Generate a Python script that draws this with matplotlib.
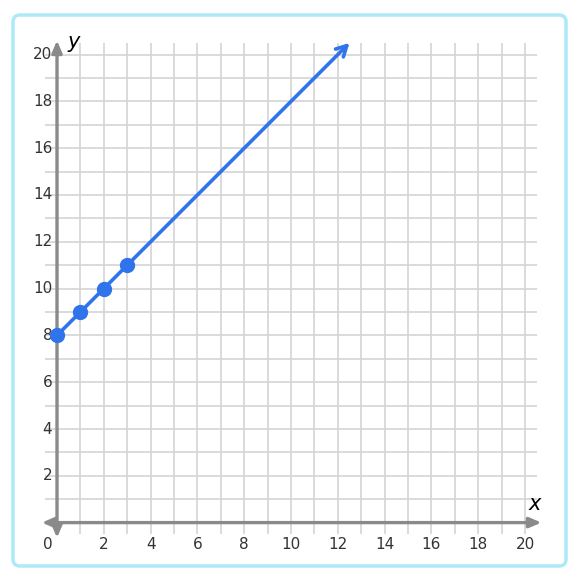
import numpy as np
import matplotlib.pyplot as plt
from matplotlib.patches import FancyBboxPatch

# Data
point_x = [0, 1, 2, 3]
point_y = [8, 9, 10, 11]
line_start = (0, 8)
line_end = (12.5, 20.5)
tick_values = [2, 4, 6, 8, 10, 12, 14, 16, 18, 20]
grid_values = list(range(1, 21))

blue = '#2f74ea'
axis_gray = '#8a8a8a'
grid_gray = '#d4d4d4'

fig = plt.figure(figsize=(5.81, 5.81), dpi=100)

# rounded border around the graph
border = FancyBboxPatch((13 / 581, 15 / 581), 553 / 581, 551 / 581,
                        boxstyle='round,pad=0,rounding_size=0.012',
                        transform=fig.transFigure, fill=False,
                        edgecolor='#aee9f8', linewidth=2.5)
fig.patches.append(border)

ax = fig.add_axes([21.9 / 581, 23.3 / 581, 538.2 / 581, 538.2 / 581])
ax.set_xlim(-1.5, 21.5)
ax.set_ylim(-1.5, 21.5)
ax.axis('off')

# grid
ax.vlines(grid_values, -0.5, 20.5, color=grid_gray, lw=1.2, zorder=1)
ax.hlines(grid_values, -0.5, 20.5, color=grid_gray, lw=1.2, zorder=1)

# axes with arrows
ax.annotate('', xy=(20.7, 0), xytext=(-0.65, 0),
            arrowprops=dict(arrowstyle='<|-|>,head_length=0.7,head_width=0.3',
                            color=axis_gray, lw=2.4, shrinkA=0, shrinkB=0), zorder=2)
ax.annotate('', xy=(0, 20.6), xytext=(0, -0.65),
            arrowprops=dict(arrowstyle='<|-|>,head_length=0.7,head_width=0.3',
                            color=axis_gray, lw=2.4, shrinkA=0, shrinkB=0), zorder=2)

# tick labels
for v in tick_values:
    ax.text(v, -0.6, str(v), ha='center', va='top', fontsize=11, color='#333333')
    ax.text(-0.2, v, str(v), ha='right', va='center', fontsize=11, color='#333333')
ax.text(-0.2, -0.6, '0', ha='right', va='top', fontsize=11, color='#333333')

ax.text(0.45, 20.1, 'y', fontsize=15, style='italic', color='black', ha='left', va='bottom')
ax.text(20.4, 0.35, 'x', fontsize=15, style='italic', color='black', ha='center', va='bottom')

# line with arrow
ax.annotate('', xy=line_end, xytext=line_start,
            arrowprops=dict(arrowstyle='->,head_length=0.75,head_width=0.4',
                            color=blue, lw=2.6, shrinkA=0, shrinkB=0), zorder=3)
ax.plot(point_x, point_y, 'o', color=blue, markersize=10, zorder=4, clip_on=False)

fig.savefig('out.png', dpi=100)
